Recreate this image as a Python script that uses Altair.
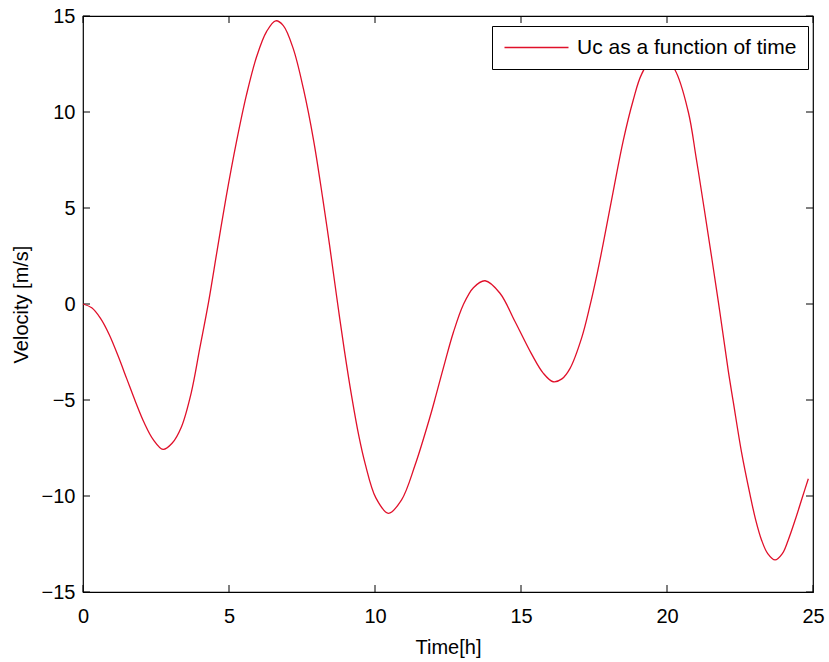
import altair as alt
import pandas as pd

# Curve
time_h = [0.0, 0.3, 0.6, 0.9, 1.2, 1.5, 1.8, 2.1, 2.4, 2.74, 3.05, 3.37, 3.71, 4.0,
          4.3, 4.6, 4.9, 5.25, 5.6, 5.95, 6.29, 6.6, 6.86, 7.2, 7.55, 7.9, 8.21,
          8.45, 8.69, 8.95, 9.2, 9.45, 9.66, 10.03, 10.46, 10.91, 11.37, 11.88, 12.09, 12.4,
          12.68, 13.02, 13.37, 13.77, 14.28, 14.79, 15.36, 15.76, 16.1, 16.4, 16.68, 17.08,
          17.36, 17.61, 17.81, 18.15, 18.5, 18.84, 19.14, 19.7, 20.27, 20.73, 21.0,
          21.27, 21.76, 22.1, 22.27, 22.55, 22.84, 23.03, 23.24, 23.45, 23.7, 23.95, 24.15,
          24.4, 24.65, 24.84]
velocity = [0.0, -0.2, -0.75, -1.6, -2.7, -3.9, -5.1, -6.2, -7.05, -7.57, -7.25, -6.4, -4.6, -2.3,
            0.1, 2.85, 5.55, 8.4, 10.9, 12.9, 14.2, 14.75, 14.5, 13.3, 11.2, 8.5, 5.5,
            3.0, 0.35, -2.4, -4.8, -6.9, -8.3, -10.1, -10.9, -10.2, -8.4, -5.9, -4.75, -3.0,
            -1.5, -0.05, 0.85, 1.21, 0.56, -0.9, -2.6, -3.6, -4.05, -3.9, -3.35, -1.75,
            -0.1, 1.6, 3.1, 5.8, 8.5, 10.6, 12.0, 13.2, 12.2, 10.0, 7.6,
            5.0, 0.1, -3.5, -5.1, -7.7, -9.9, -11.2, -12.3, -13.0, -13.33, -13.0, -12.3,
            -11.2, -10.0, -9.1]
series_name = "Uc as a function of time"

x_ticks = [0, 5, 10, 15, 20, 25]
y_ticks = [-15, -10, -5, 0, 5, 10, 15]

W, H = 730, 576
FONT = "Liberation Sans"
FS = 20

df = pd.DataFrame({"t": time_h, "v": velocity, "series": series_name})
xt = pd.DataFrame({"t": x_ticks})
yt = pd.DataFrame({"v": y_ticks})

xscale = alt.Scale(domain=[0, 25], nice=False, zero=False)
yscale = alt.Scale(domain=[-15, 15], nice=False, zero=False)

line = alt.Chart(df).mark_line(strokeWidth=1.3, interpolate="catmull-rom").encode(
    x=alt.X("t:Q", scale=xscale,
            axis=alt.Axis(title="Time[h]", values=x_ticks, format="d", grid=False,
                          domain=False, ticks=False, tickSize=0, labelFlush=False,
                          labelBaseline="alphabetic", labelPadding=30,
                          labelFont=FONT, labelFontSize=FS, labelColor="#000000",
                          titleFont=FONT, titleFontSize=FS, titleFontWeight="normal",
                          titleColor="#000000", titleBaseline="alphabetic", titleY=61)),
    y=alt.Y("v:Q", scale=yscale,
            axis=alt.Axis(title="Velocity [m/s]", values=y_ticks, format="d", grid=False,
                          domain=False, ticks=False, tickSize=0, labelPadding=8,
                          labelFlush=False,
                          labelFont=FONT, labelFontSize=FS, labelColor="#000000",
                          titleFont=FONT, titleFontSize=FS, titleFontWeight="normal",
                          titleColor="#000000", titleX=-62, titleBaseline="middle")),
    color=alt.Color("series:N", scale=alt.Scale(range=["#e0102a"]),
                    legend=alt.Legend(title=None, orient="none", legendX=409, legendY=10,
                                      symbolType="M-4,0H4", symbolSize=256,
                                      symbolStrokeWidth=1.5, symbolOffset=23,
                                      strokeColor="#000000", fillColor="#ffffff",
                                      padding=11,
                                      labelFont=FONT, labelFontSize=21,
                                      labelColor="#000000", labelLimit=400,
                                      labelOffset=30)),
)

tick_len = 7
bottom_ticks = alt.Chart(xt).mark_rule(color="black", strokeWidth=1).encode(
    x=alt.X("t:Q", scale=xscale), y=alt.value(H), y2=alt.value(H - tick_len))
top_ticks = alt.Chart(xt).mark_rule(color="black", strokeWidth=1).encode(
    x=alt.X("t:Q", scale=xscale), y=alt.value(0), y2=alt.value(tick_len))
left_ticks = alt.Chart(yt).mark_rule(color="black", strokeWidth=1).encode(
    y=alt.Y("v:Q", scale=yscale), x=alt.value(0), x2=alt.value(tick_len))
right_ticks = alt.Chart(yt).mark_rule(color="black", strokeWidth=1).encode(
    y=alt.Y("v:Q", scale=yscale), x=alt.value(W), x2=alt.value(W - tick_len))

chart = alt.layer(bottom_ticks, top_ticks, left_ticks, right_ticks, line).properties(
    width=W, height=H,
    autosize=alt.AutoSizeParams(type="none"),
    padding={"left": 83, "top": 16, "right": 16, "bottom": 70},
    background="white",
).configure_view(stroke="black", strokeWidth=1.2)

chart.save("out.html", embed_options={"renderer": "svg", "actions": False})
